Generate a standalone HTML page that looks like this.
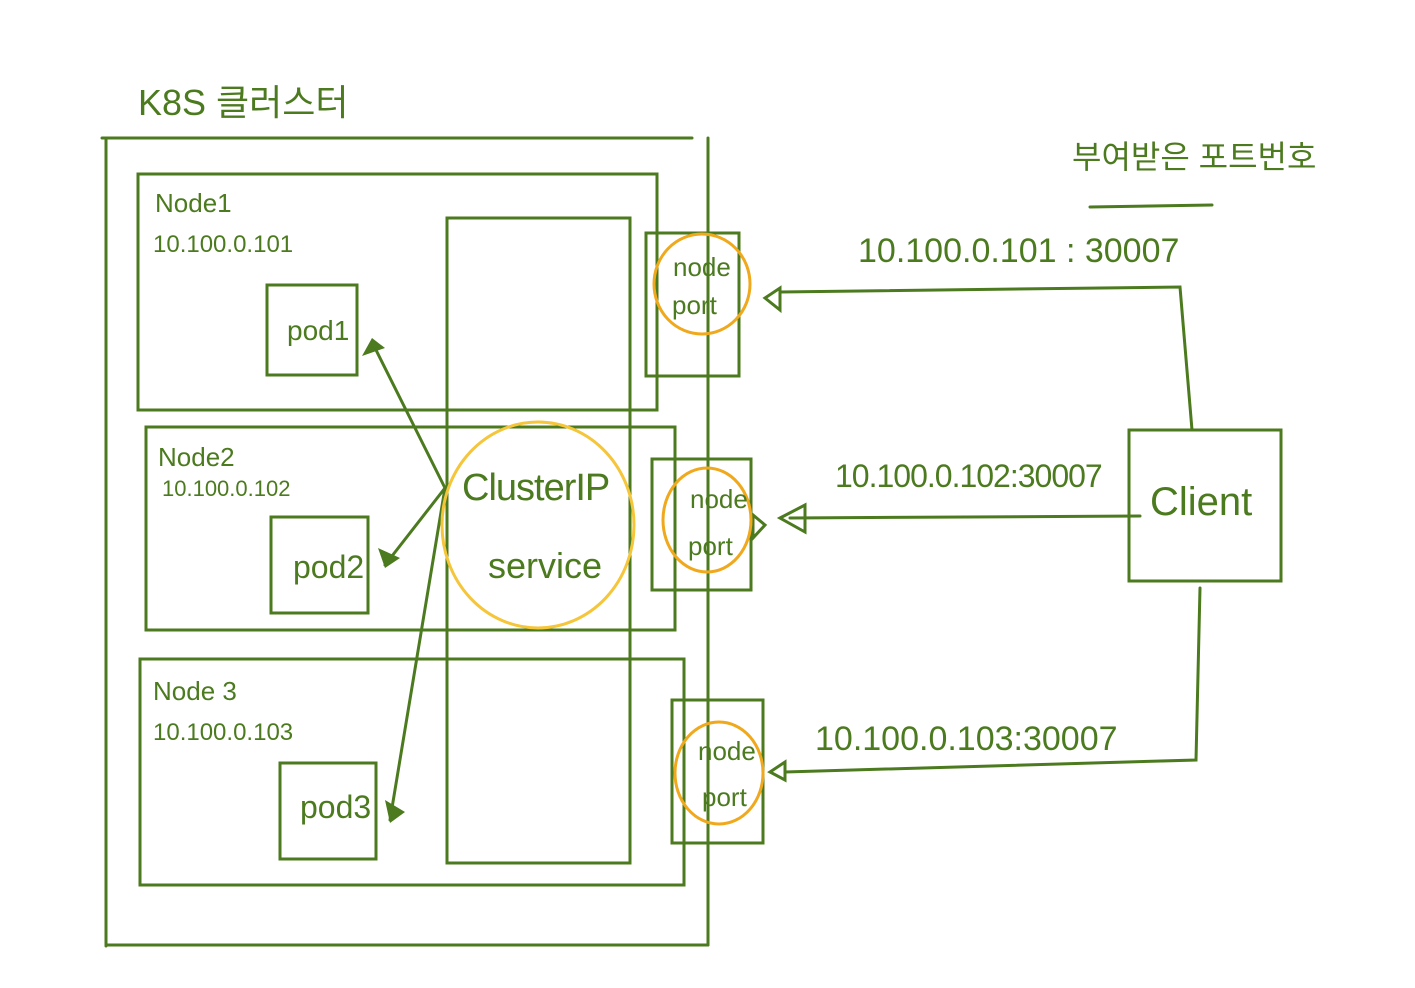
<!DOCTYPE html>
<html><head><meta charset="utf-8"><style>
html,body{margin:0;padding:0;background:#fff;}
svg{display:block}
text{font-family:"Liberation Sans","Noto Sans CJK KR",sans-serif;fill:#4c7a1f;}
</style></head><body>
<svg width="1415" height="988" viewBox="0 0 1415 988" xmlns="http://www.w3.org/2000/svg">
<g stroke="#4c7a1f" stroke-width="3" fill="none" stroke-linecap="round">
<line x1="102" y1="138" x2="692" y2="138"/>
<line x1="106" y1="140" x2="106" y2="946"/>
<line x1="106" y1="945" x2="708" y2="945"/>
<line x1="708" y1="138" x2="708" y2="945"/>
<rect x="138" y="174" width="519" height="236"/>
<rect x="267" y="285" width="90" height="90"/>
<rect x="146" y="427" width="529" height="203"/>
<rect x="271" y="517" width="97" height="96"/>
<rect x="140" y="659" width="544" height="226"/>
<rect x="280" y="763" width="96" height="96"/>
<rect x="447" y="218" width="183" height="645"/>
<rect x="646" y="233" width="93" height="143"/>
<rect x="652" y="459" width="99" height="131"/>
<rect x="672" y="700" width="91" height="143"/>
<rect x="1129" y="430" width="152" height="151"/>
<line x1="445" y1="488" x2="372" y2="342"/>
<line x1="445" y1="488" x2="385" y2="565"/>
<line x1="445" y1="488" x2="390" y2="820"/>
<polyline points="1192,430 1180,287 780,292"/>
<polygon points="765,298 780,288 780,310"/>
<polyline points="1140,516 790,518"/>
<polygon points="780,518 805,505 805,532"/>
<polygon points="765,525 753,515 753,538"/>
<polyline points="1200,588 1196,760 785,772"/>
<polygon points="770,772 785,762 785,780"/>
<line x1="1090" y1="207" x2="1212" y2="205"/>
</g>
<g fill="#4c7a1f">
<polygon points="372,338 362,356 385,348"/>
<polygon points="385,568 378,548 400,558"/>
<polygon points="390,823 385,800 405,812"/>
</g>
<ellipse cx="538" cy="525" rx="96" ry="103" fill="none" stroke="#f5c53a" stroke-width="3"/>
<g fill="none" stroke="#f0a81c" stroke-width="3">
<ellipse cx="702" cy="284" rx="48" ry="50"/>
<ellipse cx="707" cy="520" rx="44" ry="52"/>
<ellipse cx="719" cy="773" rx="44" ry="51"/>
</g>
<text x="138" y="115" font-size="36">K8S 클러스터</text>
<text x="1072" y="168" font-size="32">부여받은 포트번호</text>
<text x="155" y="212" font-size="26">Node1</text>
<text x="153" y="252" font-size="24">10.100.0.101</text>
<text x="158" y="466" font-size="26">Node2</text>
<text x="162" y="496" font-size="22">10.100.0.102</text>
<text x="153" y="700" font-size="26">Node 3</text>
<text x="153" y="740" font-size="24">10.100.0.103</text>
<text x="287" y="340" font-size="28">pod1</text>
<text x="293" y="578" font-size="32">pod2</text>
<text x="300" y="818" font-size="32">pod3</text>
<text x="462" y="500" font-size="38" letter-spacing="-1">ClusterIP</text>
<text x="488" y="578" font-size="36">service</text>
<text x="673" y="276" font-size="26">node</text>
<text x="672" y="314" font-size="26">port</text>
<text x="690" y="508" font-size="26">node</text>
<text x="688" y="555" font-size="26">port</text>
<text x="698" y="760" font-size="26">node</text>
<text x="702" y="806" font-size="26">port</text>
<text x="1150" y="515" font-size="40">Client</text>
<text x="858" y="262" font-size="34">10.100.0.101 : 30007</text>
<text x="835" y="487" font-size="32" letter-spacing="-1">10.100.0.102:30007</text>
<text x="815" y="750" font-size="34">10.100.0.103:30007</text>
</svg>
</body></html>
